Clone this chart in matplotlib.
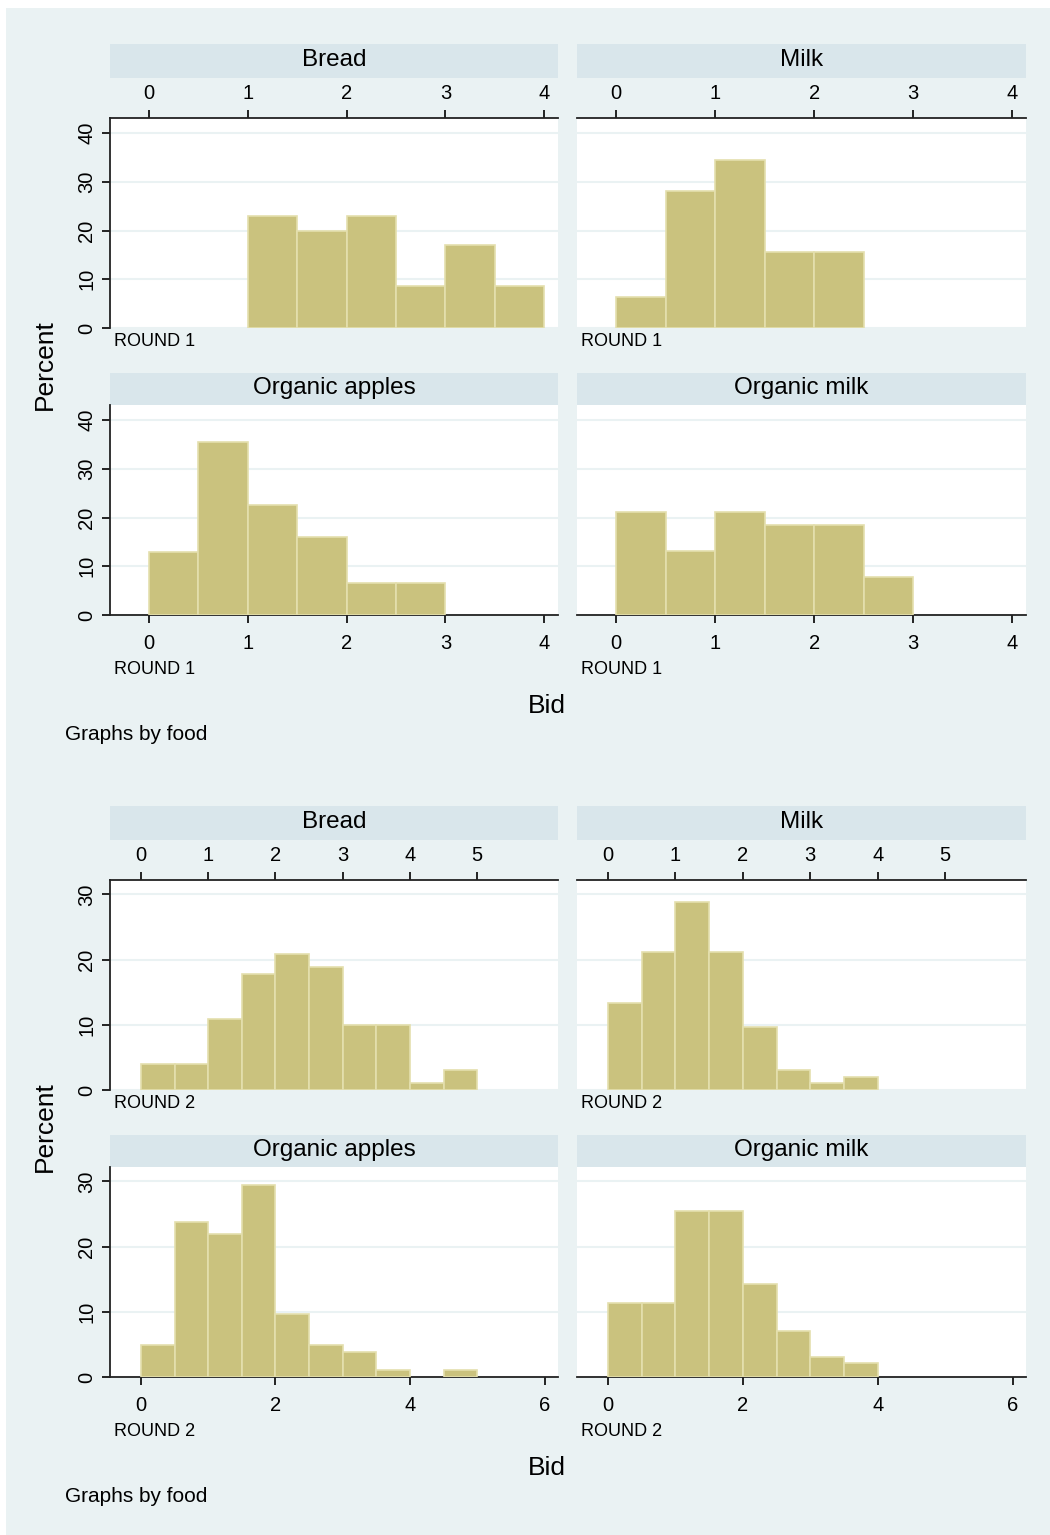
import numpy as np
import matplotlib
matplotlib.use('Agg')
import matplotlib.pyplot as plt
from matplotlib.patches import Rectangle

plt.rcParams['font.family'] = ['Liberation Sans', 'DejaVu Sans']

# histogram data: percent of bids per 0.5 bin, panels in order
foods = ['Bread', 'Milk', 'Organic apples', 'Organic milk']
bin_width = 0.5

r1_start = [1.0, 0.0, 0.0, 0.0]
r1_bread = [22.9, 20.0, 22.9, 8.6, 17.1, 8.6]
r1_milk = [6.3, 28.1, 34.4, 15.6, 15.6]
r1_org_apples = [12.9, 35.5, 22.6, 16.1, 6.5, 6.5]
r1_org_milk = [21.1, 13.2, 21.1, 18.4, 18.4, 7.9]

r2_start = [0.0, 0.0, 0.0, 0.0]
r2_bread = [4.0, 4.0, 10.9, 17.8, 20.8, 18.8, 9.9, 9.9, 1.0, 3.0]
r2_milk = [13.4, 21.1, 28.9, 21.1, 9.7, 3.0, 1.0, 2.0]
r2_org_apples = [4.9, 23.8, 22.0, 29.5, 9.6, 4.9, 3.9, 1.0, 0.0, 1.0]
r2_org_milk = [11.3, 11.3, 25.5, 25.5, 14.2, 7.1, 3.1, 2.1]

r1_xticks_top = [0, 1, 2, 3, 4]
r1_xticks_bottom = [0, 1, 2, 3, 4]
r1_yticks = [0, 10, 20, 30, 40]
r2_xticks_top = [0, 1, 2, 3, 4, 5]
r2_xticks_bottom = [0, 2, 4, 6]
r2_yticks = [0, 10, 20, 30]

W, H = 1050, 1535
BG = '#EAF2F3'
STRIP = '#D9E6EB'
FILL = '#CAC27E'
EDGE = '#E4DFAE'


def box(x0, y0, x1, y1):
    return [x0 / W, 1 - y1 / H, (x1 - x0) / W, (y1 - y0) / H]


fig = plt.figure(figsize=(W / 100, H / 100), dpi=100)
fig.patches.append(Rectangle((6 / W, 0), 1, 1 - 8 / H, transform=fig.transFigure,
                             facecolor=BG, edgecolor='none', zorder=-10))

cols = [(110, 558), (577, 1026)]


def draw_graph(off, series, starts, xlim, ylim, yticks, xt_top, xt_bottom, note):
    # strips and plot regions (pixel rows), shifted by off for the second graph
    strips = [(44, 78), (373, 405)]
    plots = [(118, 328), (405, 615)]
    for i, vals in enumerate(series):
        r, c = divmod(i, 2)
        x0, x1 = cols[c]
        s0, s1 = strips[r]
        sax = fig.add_axes(box(x0, s0 + off, x1, s1 + off))
        sax.set_facecolor(STRIP)
        sax.set_xticks([]); sax.set_yticks([])
        for sp in sax.spines.values():
            sp.set_visible(False)
        sax.text(0.5, 0.52, foods[i], ha='center', va='center', fontsize=17.5,
                 transform=sax.transAxes)

        p0, p1 = plots[r]
        ax = fig.add_axes(box(x0, p0 + off, x1, p1 + off))
        ax.set_facecolor('white')
        vals = np.array(vals)
        edges = starts[i] + bin_width * np.arange(len(vals))
        keep = vals > 0   # empty bins draw nothing
        ax.bar(edges[keep], vals[keep], width=bin_width, align='edge', color=FILL,
               edgecolor=EDGE, linewidth=1.2, zorder=3)
        for yt in yticks:
            ax.axhline(yt, color=BG, lw=1.5, zorder=1)
        ax.set_xlim(xlim)
        ax.set_ylim(ylim)
        for sp in ax.spines.values():
            sp.set_visible(False)
            sp.set_linewidth(1.3)
            sp.set_color('#222222')

        if r == 0:
            ax.spines['top'].set_visible(True)
            ax.xaxis.tick_top()
            ax.set_xticks(xt_top)
            ax.tick_params(axis='x', top=True, bottom=False, labeltop=True,
                           labelbottom=False, length=6, width=1.2, pad=4.5, labelsize=14.5)
            fig.text((x0 + 4) / W, 1 - (p1 + 14 + off) / H, note, fontsize=13, va='center')
        else:
            ax.spines['bottom'].set_visible(True)
            ax.set_xticks(xt_bottom)
            ax.tick_params(axis='x', length=6, width=1.2, pad=8, labelsize=14.5)
            fig.text((x0 + 4) / W, 1 - (p1 + 55 + off) / H, note, fontsize=13, va='center')

        if c == 0:
            ax.spines['left'].set_visible(True)
            ax.set_yticks(yticks)
            ax.tick_params(axis='y', length=6, width=1.2, pad=4, labelsize=14.5)
            for lab in ax.get_yticklabels():
                lab.set_rotation(90)
                lab.set_va('center')
        else:
            ax.set_yticks([])

    fig.text(45 / W, 1 - (365 + off) / H, 'Percent', rotation=90, fontsize=19,
             ha='center', va='center')
    fig.text(547 / W, 1 - (706 + off) / H, 'Bid', fontsize=19, ha='center', va='center')
    fig.text(65 / W, 1 - (735 + off) / H, 'Graphs by food', fontsize=15, va='center')


draw_graph(0, [r1_bread, r1_milk, r1_org_apples, r1_org_milk], r1_start,
           (-0.395, 4.14), (0, 43.1), r1_yticks, r1_xticks_top, r1_xticks_bottom, 'ROUND 1')
draw_graph(762, [r2_bread, r2_milk, r2_org_apples, r2_org_milk], r2_start,
           (-0.46, 6.2), (0, 32.2), r2_yticks, r2_xticks_top, r2_xticks_bottom, 'ROUND 2')

fig.savefig('out.png', dpi=100, facecolor='white')
